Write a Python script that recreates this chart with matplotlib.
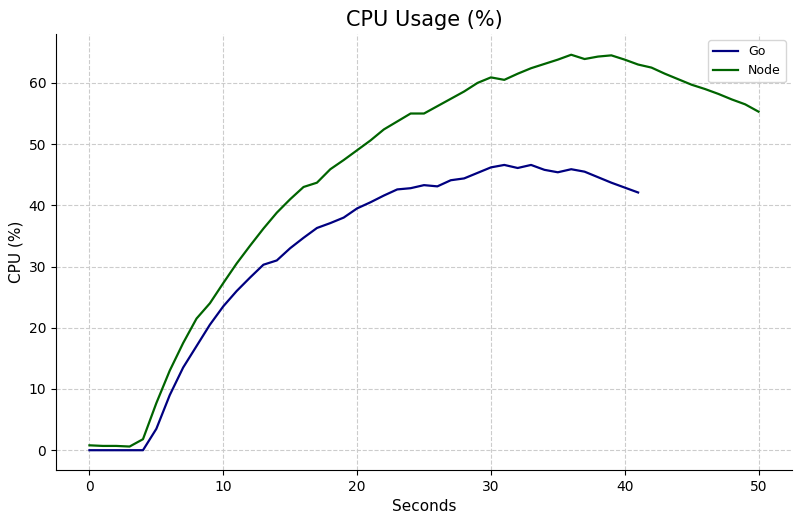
import matplotlib
matplotlib.use('Agg')
import matplotlib.pyplot as plt

# CPU usage per second
go_cpu = [0, 0, 0, 0, 0, 3.5, 9, 13.5, 17, 20.5, 23.5, 26, 28.2, 30.3, 31, 33, 34.7, 36.3,
          37.1, 38, 39.5, 40.5, 41.6, 42.6, 42.8, 43.3, 43.1, 44.1, 44.4, 45.3, 46.2, 46.6,
          46.1, 46.6, 45.8, 45.4, 45.9, 45.5, 44.6, 43.7, 42.9, 42.1]
node_cpu = [0.8, 0.7, 0.7, 0.6, 1.8, 7.7, 13, 17.5, 21.5, 24, 27.3, 30.5, 33.4, 36.2, 38.8,
            41, 43, 43.7, 45.9, 47.4, 49, 50.6, 52.4, 53.7, 55, 55, 56.2, 57.4, 58.6, 60,
            60.9, 60.5, 61.5, 62.4, 63.1, 63.8, 64.6, 63.9, 64.3, 64.5, 63.8, 63, 62.5,
            61.5, 60.6, 59.7, 59, 58.2, 57.3, 56.5, 55.3]
go_sec = list(range(len(go_cpu)))
node_sec = list(range(len(node_cpu)))

fig, ax = plt.subplots(figsize=(8, 5.22), dpi=100)
ax.plot(go_sec, go_cpu, color='navy', linewidth=1.6, label='Go')
ax.plot(node_sec, node_cpu, color='darkgreen', linewidth=1.6, label='Node')

ax.set_title('CPU Usage (%)', fontsize=15)
ax.set_xlabel('Seconds', fontsize=11)
ax.set_ylabel('CPU (%)', fontsize=11)
ax.grid(True, linestyle='--', color='#cccccc', linewidth=0.8)
ax.spines['top'].set_visible(False)
ax.spines['right'].set_visible(False)
ax.set_xlim(-2.5, 52.5)
ax.set_ylim(-3.2, 68)
ax.legend(loc='upper right', fontsize=9)

plt.subplots_adjust(left=0.07, right=0.99, top=0.935, bottom=0.1)
plt.savefig('out.png', dpi=100)
